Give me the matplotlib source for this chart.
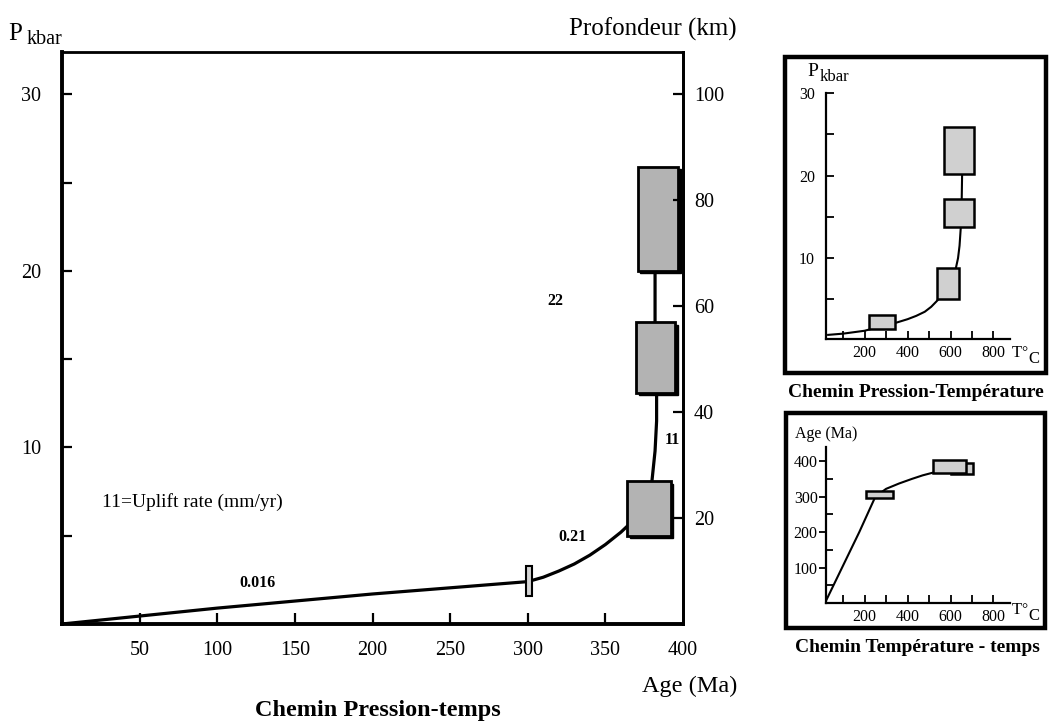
import matplotlib.pyplot as plt
from matplotlib.patches import Rectangle
from matplotlib.transforms import offset_copy

plt.rcParams['font.family'] = ['Liberation Serif', 'DejaVu Serif']

# main chart: pressure-time path
age_ticks = [50, 100, 150, 200, 250, 300, 350, 400]
p_ticks = [10, 20, 30]
depth_ticks = [20, 40, 60, 80, 100]

path_age = [0, 50, 100, 150, 200, 250, 300, 310, 320, 330, 340, 350, 360, 366, 380, 382, 383, 383, 382, 382]
path_p = [0, 0.45, 0.9, 1.3, 1.7, 2.05, 2.4, 2.65, 3.0, 3.4, 3.9, 4.5, 5.2, 5.7, 8.1, 9.8, 11.5, 13.1, 17.1, 20.2]

# (age min, age max, P min, P max)
pt_boxes = [(364, 392, 5.0, 8.1), (370, 395, 13.1, 17.1), (371, 397, 20.0, 25.9)]
small_box = (299, 303, 1.6, 3.3)

rate_labels = ["0.016", "0.21", "11", "22"]
rate_age = [126, 329, 393, 318]
rate_p = [2.3, 4.9, 10.4, 18.3]

# inset 1: pressure-temperature
pt_temp = [30, 100, 200, 300, 350, 400, 440, 480, 510, 540, 580, 610, 625, 635, 642, 648, 652, 654]
pt_press = [0.7, 0.85, 1.2, 1.9, 2.2, 2.6, 3.0, 3.5, 4.1, 4.9, 6.5, 7.8, 8.8, 10.0, 11.5, 13.8, 17.0, 20.2]
pt_temp_boxes = [(220, 340, 1.4, 3.1), (537, 640, 5.1, 8.8), (570, 709, 13.8, 17.1), (570, 709, 20.2, 25.9)]

# inset 2: temperature-time
tt_temp = [15, 95, 175, 250, 300, 360, 420, 470, 520]
tt_age = [0, 100, 200, 300, 322, 337, 350, 360, 368]
tt_boxes = [(600, 705, 364, 394), (518, 672, 367, 403), (207, 333, 297, 317)]

fig = plt.figure(figsize=(10.57, 7.21), dpi=100)
W, H = 1057, 721


def fig_rect(x0, y0, x1, y1):
    return [x0 / W, 1 - y1 / H, (x1 - x0) / W, (y1 - y0) / H]


def tc_label(x, y):
    # "T°C" with the C dropped a little, as in the scanned insets
    fig.text(x / W, 1 - y / H, "T", fontsize=12, ha='left', va='baseline')
    fig.text((x + 9) / W, 1 - (y - 1) / H, "°", fontsize=11, ha='left', va='baseline')
    fig.text((x + 16) / W, 1 - (y + 6) / H, "C", fontsize=12, ha='left', va='baseline')


ax = fig.add_axes(fig_rect(62, 52, 683, 624))
ax.plot(path_age, path_p, color='black', lw=2.3, zorder=2, solid_capstyle='round')
shadow_tr = offset_copy(ax.transData, fig=fig, x=2.5, y=-2.5, units='dots')
for a0, a1, p0, p1 in pt_boxes:
    ax.add_patch(Rectangle((a0, p0), a1 - a0, p1 - p0, fc='black', ec='black', lw=1, zorder=3, transform=shadow_tr))
    ax.add_patch(Rectangle((a0, p0), a1 - a0, p1 - p0, fc='#b3b3b3', ec='black', lw=2.0, zorder=4))
a0, a1, p0, p1 = small_box
ax.add_patch(Rectangle((a0, p0), a1 - a0, p1 - p0, fc='#d4d4d4', ec='black', lw=1.5, zorder=4))

for s, x, y in zip(rate_labels, rate_age, rate_p):
    ax.text(x, y, s, fontsize=11.5, fontweight='bold', ha='center', va='center')
ax.text(26, 6.9, "11=Uplift rate (mm/yr)", fontsize=14, ha='left', va='center')

ax.set_xlim(0, 400)
ax.set_ylim(0, 32.4)
ax.set_xticks(age_ticks[:-1])
ax.set_xticklabels([])
ax.set_yticks(p_ticks)
ax.set_yticks([5, 15, 25], minor=True)
ax.tick_params(axis='y', which='both', direction='in', length=7, width=1.6, labelsize=14.5, pad=15)
ax.tick_params(axis='x', direction='in', length=8, width=1.6, labelsize=14.5)
for v in age_ticks:
    ax.text(v, -0.95, str(v), fontsize=14.5, ha='center', va='top')
for side in ['left', 'bottom']:
    ax.spines[side].set_linewidth(2.8)
for side in ['top', 'right']:
    ax.spines[side].set_linewidth(2.0)

ax2 = ax.twinx()
ax2.set_ylim(0, 32.4 * 100 / 30)
ax2.set_yticks(depth_ticks)
ax2.tick_params(axis='y', direction='in', length=7, width=1.6, labelsize=14.5, pad=8)
ax2.spines['right'].set_linewidth(2.0)

fig.text(8 / W, 1 - 40 / H, "P", fontsize=18, ha='left', va='baseline')
fig.text(27 / W, 1 - 44 / H, "kbar", fontsize=14.5, ha='left', va='baseline')
fig.text(737 / W, 1 - 36 / H, "Profondeur (km)", fontsize=18, ha='right', va='baseline')
fig.text(737 / W, 1 - 692 / H, "Age (Ma)", fontsize=17.5, ha='right', va='baseline')
fig.text(378 / W, 1 - 716 / H, "Chemin Pression-temps", fontsize=17.5, fontweight='bold', ha='center', va='baseline')

# frames around insets
fig.patches.append(Rectangle((785 / W, 1 - 373 / H), 261 / W, 316 / H, transform=fig.transFigure,
                             fill=False, ec='black', lw=3.2))
fig.patches.append(Rectangle((786 / W, 1 - 628 / H), 259 / W, 215 / H, transform=fig.transFigure,
                             fill=False, ec='black', lw=3.2))

# inset 1
ia = fig.add_axes(fig_rect(826, 93, 1010, 339))
ia.plot(pt_temp, pt_press, color='black', lw=1.5, zorder=2)
for t0, t1, p0, p1 in pt_temp_boxes:
    ia.add_patch(Rectangle((t0, p0), t1 - t0, p1 - p0, fc='#d0d0d0', ec='black', lw=1.8, zorder=3))
ia.set_xlim(20, 877)
ia.set_ylim(0.2, 30)
ia.set_xticks([100, 200, 300, 400, 500, 600, 700, 800])
ia.set_xticklabels(['', '200', '', '400', '', '600', '', '800'])
ia.set_yticks([5, 10, 15, 20, 25, 30])
ia.set_yticklabels(['', '10', '', '20', '', '30'])
ia.tick_params(axis='both', direction='in', length=6, width=1.3, labelsize=11.5, pad=4)
ia.tick_params(axis='y', pad=8)
for side in ['top', 'right']:
    ia.spines[side].set_visible(False)
for side in ['left', 'bottom']:
    ia.spines[side].set_linewidth(1.6)
ia.patch.set_alpha(0)
fig.text(807 / W, 1 - 76 / H, "P", fontsize=14, ha='left', va='baseline')
fig.text(820 / W, 1 - 81 / H, "kbar", fontsize=12, ha='left', va='baseline')
tc_label(1012, 357)
fig.text(916 / W, 1 - 397 / H, "Chemin Pression-Température", fontsize=14, fontweight='bold',
         ha='center', va='baseline')

# inset 2
ib = fig.add_axes(fig_rect(826, 447, 1010, 603))
ib.plot(tt_temp, tt_age, color='black', lw=1.5, zorder=2)
for t0, t1, a0, a1 in tt_boxes:
    ib.add_patch(Rectangle((t0, a0), t1 - t0, a1 - a0, fc='#d0d0d0', ec='black', lw=1.8, zorder=3))
ib.set_xlim(20, 877)
ib.set_ylim(0, 440)
ib.set_xticks([100, 200, 300, 400, 500, 600, 700, 800])
ib.set_xticklabels(['', '200', '', '400', '', '600', '', '800'])
ib.set_yticks([100, 200, 300, 400])
ib.set_yticks([50, 150, 250, 350], minor=True)
ib.tick_params(axis='x', direction='in', length=6, width=1.3, labelsize=11.5, pad=4)
ib.tick_params(axis='y', which='major', direction='out', length=5, width=1.3, labelsize=11.5, pad=1)
ib.tick_params(axis='y', which='minor', direction='in', length=5, width=1.3)
for side in ['top', 'right']:
    ib.spines[side].set_visible(False)
for side in ['left', 'bottom']:
    ib.spines[side].set_linewidth(1.6)
ib.patch.set_alpha(0)
fig.text(795 / W, 1 - 438 / H, "Age (Ma)", fontsize=11.5, ha='left', va='baseline')
tc_label(1012, 614)
fig.text(917 / W, 1 - 652 / H, "Chemin Température - temps", fontsize=14, fontweight='bold',
         ha='center', va='baseline')

fig.savefig("out.png", dpi=100)
